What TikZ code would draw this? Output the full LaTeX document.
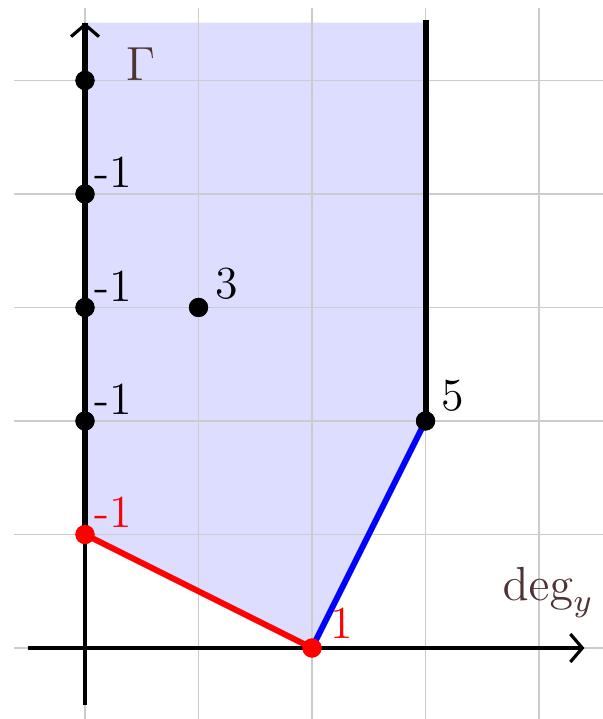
\documentclass[tikz,border=0pt]{standalone}
\usetikzlibrary{arrows.meta}
\definecolor{labbrown}{RGB}{77,51,51}
\definecolor{regfill}{RGB}{221,221,255}
\begin{document}
\begin{tikzpicture}[x=1cm,y=1cm,
  dot/.style={circle,fill=black,inner sep=0pt,minimum size=4.8pt},
  rdot/.style={circle,fill=red,inner sep=0pt,minimum size=4.8pt},
  lab/.style={font=\fontsize{11.5}{12}\selectfont,inner sep=1pt},
  axis/.style={line width=0.8pt,-{Straight Barb[length=3pt,width=7pt]}},
  edge/.style={line width=1.5pt}]
\useasboundingbox (-0.749,-0.6256) rectangle (4.555,5.709);
\fill[regfill] (0,1) -- (2,0) -- (3,2) -- (3,5.51) -- (0,5.51) -- cycle;
\draw[black!20,line width=0.3pt] (-0.63,-0.65) grid (4.6,5.64);
\draw[axis] (-0.5,0) -- (4.4,0);
\draw[axis] (0,-0.5) -- (0,5.51);
\coordinate (t0) at (0,5.51);
\coordinate (t3) at (3,5.53);
\node[rdot] (p01) at (0,1) {};
\node[rdot] (p20) at (2,0) {};
\node[dot] (p32) at (3,2) {};
\node[dot] (p13) at (1,3) {};
\node[dot] (p02) at (0,2) {};
\node[dot] (p03) at (0,3) {};
\node[dot] (p04) at (0,4) {};
\node[dot] (p05) at (0,5) {};
\draw[edge] (p01.center) -- (t0);
\draw[edge] (p32.center) -- (t3);
\draw[edge,red] (p01.center) -- (p20.center);
\draw[edge,blue] (p20.center) -- (p32.center);
\node[rdot] at (0,1) {};
\node[rdot] at (2,0) {};
\node[dot] at (3,2) {};
\node[dot] at (1,3) {};
\node[dot] at (0,2) {};
\node[dot] at (0,3) {};
\node[dot] at (0,4) {};
\node[dot] at (0,5) {};
\node[lab,text=labbrown] (gam) at (0.49,5.14) {$\Gamma$};
\node[lab] (l4) at (0.25,4.19) {-1};
\node[lab] (l3) at (0.25,3.19) {-1};
\node[lab] (l2) at (0.25,2.19) {-1};
\node[lab,text=red] (l1) at (0.25,1.2) {-1};
\node[lab] (n3) at (1.25,3.21) {3};
\node[lab] (n5) at (3.24,2.22) {5};
\node[lab,text=red] (n1) at (2.26,0.22) {1};
\node[lab,text=labbrown] (deg) at (4.08,0.49) {$\mathrm{deg}_y$};
\end{tikzpicture}
\end{document}
